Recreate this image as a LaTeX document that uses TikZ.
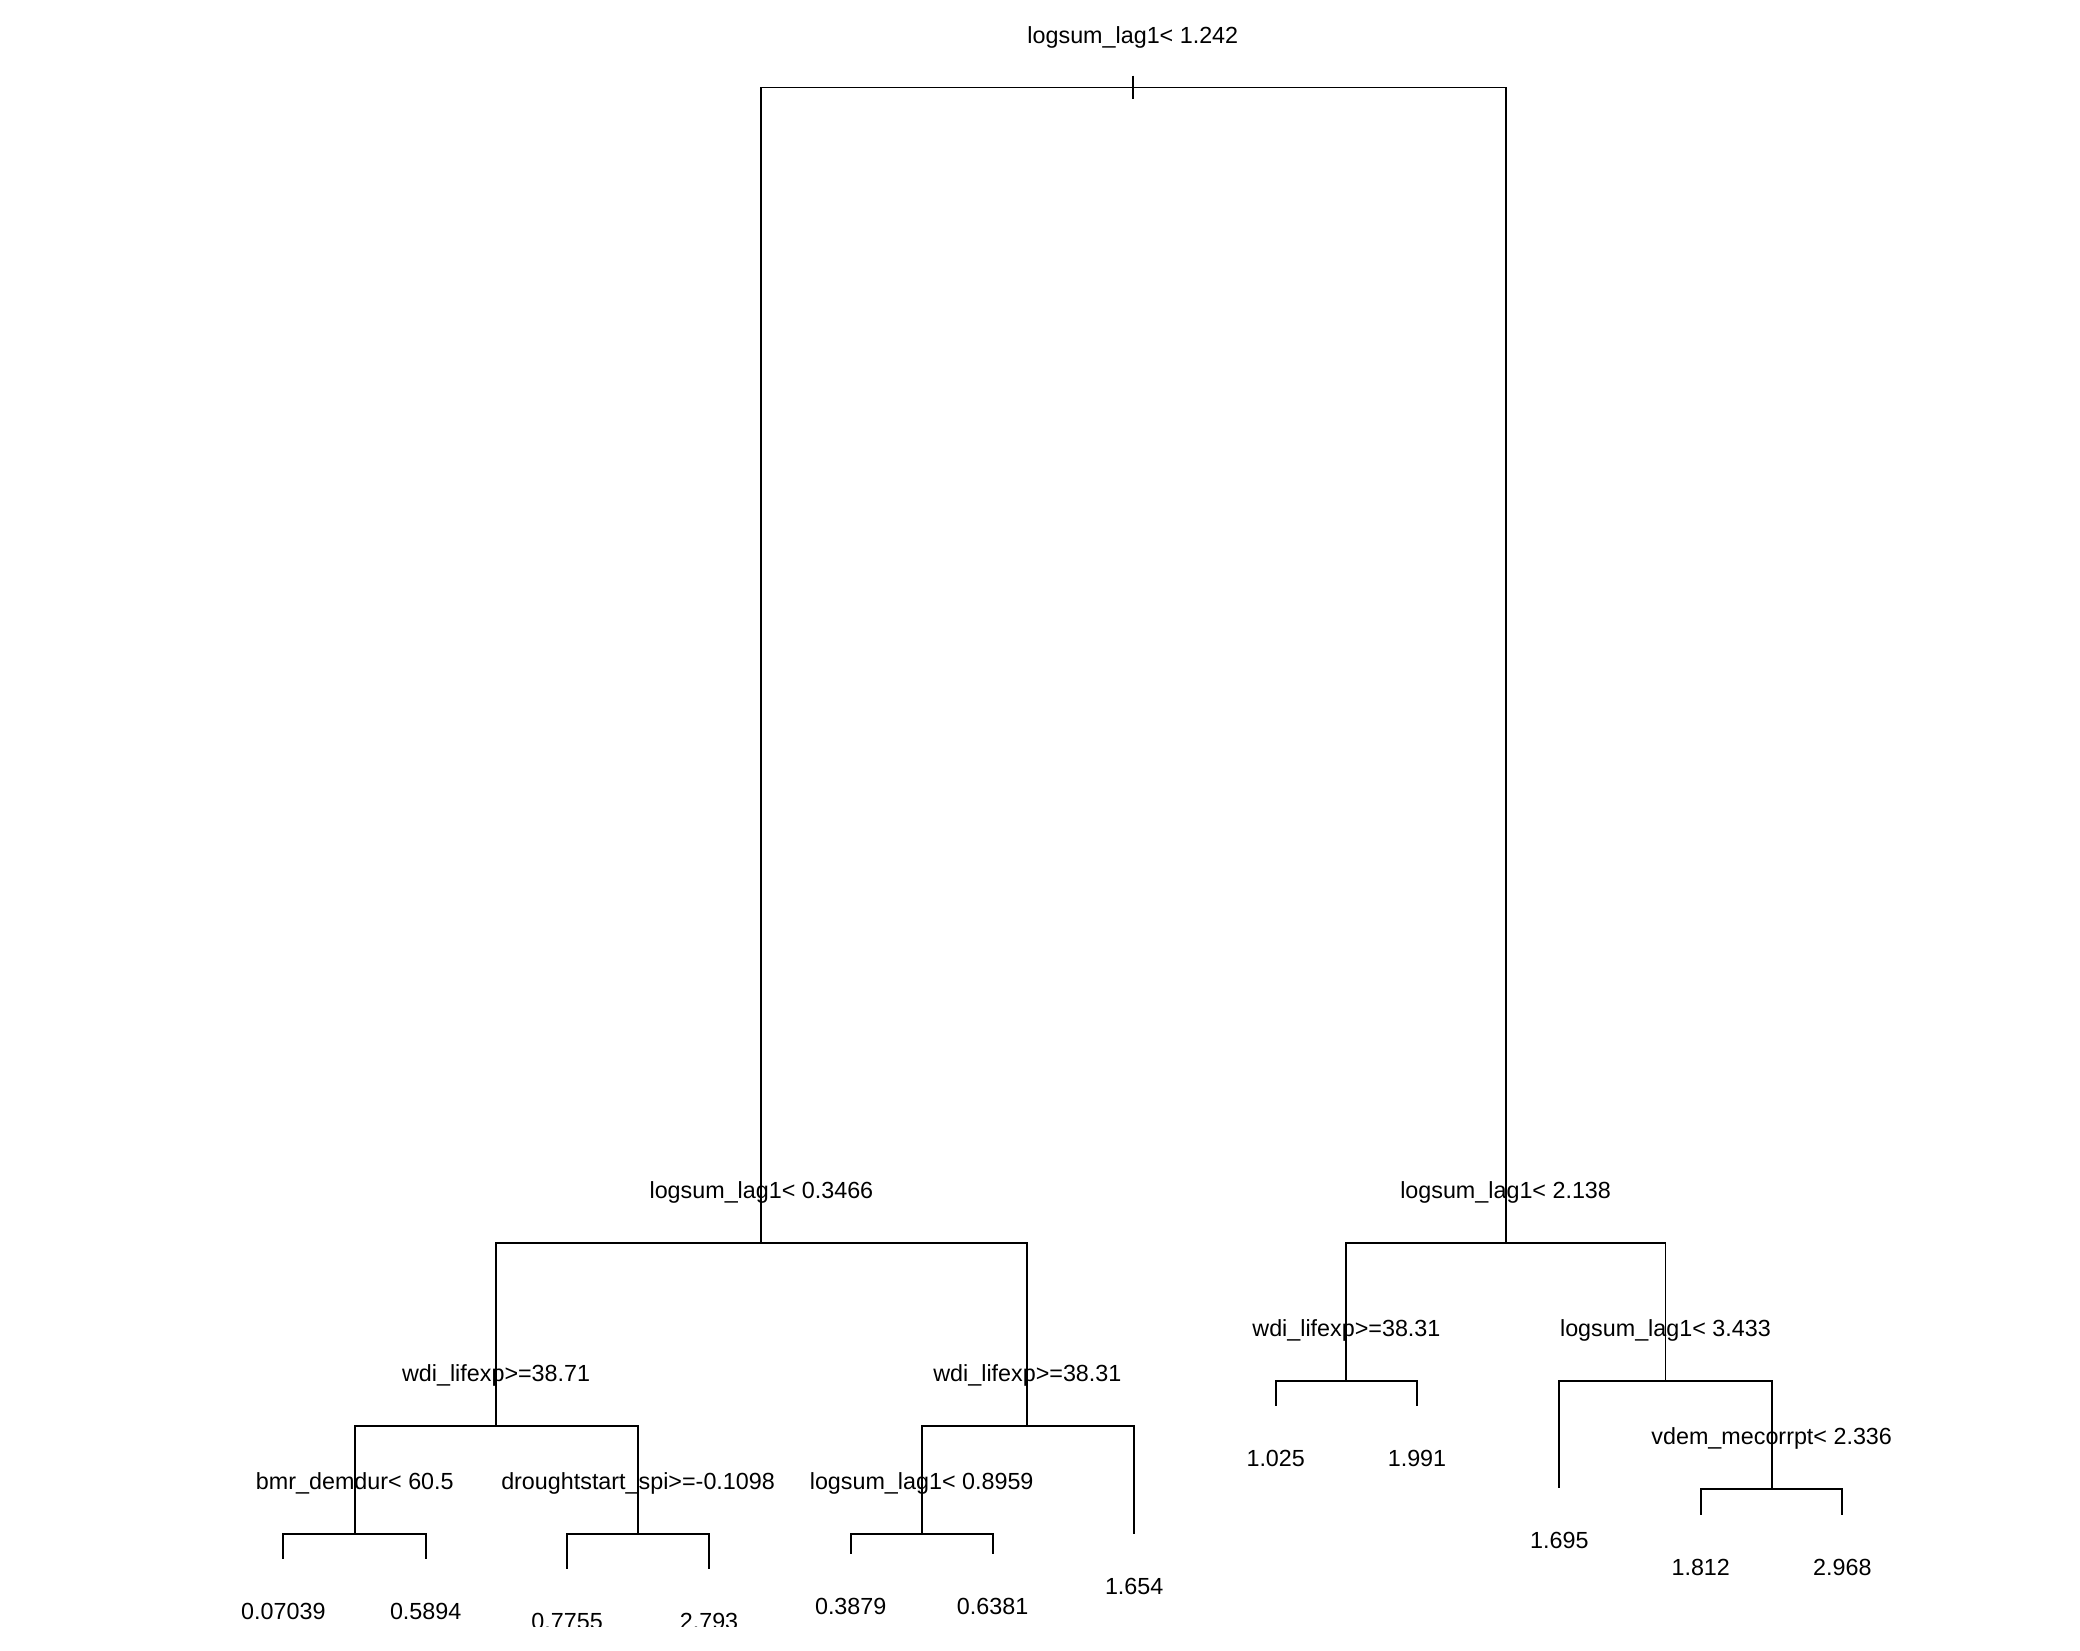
\documentclass[tikz,border=0pt]{standalone}
\usepackage{fontspec}
\setmainfont{Liberation Sans}
\usepackage{tikz}
\usetikzlibrary{calc,positioning}

\begin{document}
\begin{tikzpicture}[x=0.01cm,y=0.01cm,
      br/.style={draw=black,line width=0.4pt},
      split/.style={font=\fontsize{5}{6}\selectfont,anchor=base,inner sep=0pt},
      leaf/.style={font=\fontsize{5}{6}\selectfont,anchor=base,inner sep=0pt}]
    \useasboundingbox (0,0) rectangle (1568,1244);
    \clip (0,17.5) rectangle (1568,1244);
    % split points
    \coordinate (S0) at (854,1178);
    \coordinate (S1) at (574,307);
    \coordinate (S2) at (1135,307);
    \coordinate (S3) at (374,169);
    \coordinate (S4) at (774.5,169);
    \coordinate (S5) at (1015,203);
    \coordinate (S6) at (1255.5,203);
    \coordinate (S7) at (267.5,87.3);
    \coordinate (S8) at (481,87.3);
    \coordinate (S9) at (694.8,87.3);
    \coordinate (S10) at (1335.6,121.5);
    % leaf ends
    \coordinate (lfA) at (213.6,69);
    \coordinate (lfB) at (320.9,69);
    \coordinate (lfC) at (427.5,61);
    \coordinate (lfD) at (534.5,61);
    \coordinate (lfE) at (641.3,72.5);
    \coordinate (lfF) at (748.3,72.5);
    \coordinate (lfG) at (855,87.5);
    \coordinate (lfH) at (961.7,184);
    \coordinate (lfI) at (1068.2,184);
    \coordinate (lfJ) at (1175.5,122);
    \coordinate (lfK) at (1282.1,102);
    \coordinate (lfL) at (1388.9,102);
    % branches
    \foreach \p/\c in {S0/S1,S0/S2,S1/S3,S1/S4,S2/S5,S2/S6,S3/S7,S3/S8,S4/S9,S4/lfG,
        S5/lfH,S5/lfI,S6/lfJ,S6/S10,S7/lfA,S7/lfB,S8/lfC,S8/lfD,S9/lfE,S9/lfF,S10/lfK,S10/lfL}
      \draw[br] (\p) -| (\c);
    % root tick
    \draw[br] ($(S0)+(0,9)$) -- ($(S0)+(0,-9)$);
    % split labels
    \foreach \n/\t in {S0/{logsum\_lag1< 1.242},S1/{logsum\_lag1< 0.3466},S2/{logsum\_lag1< 2.138},
        S3/{wdi\_lifexp>=38.71},S4/{wdi\_lifexp>=38.31},S5/{wdi\_lifexp>=38.31},
        S6/{logsum\_lag1< 3.433},S7/{bmr\_demdur< 60.5},S8/{droughtstart\_spi>=-0.1098},
        S9/{logsum\_lag1< 0.8959},S10/{vdem\_mecorrpt< 2.336}}
      \node[split] (T\n) at ($(\n)+(0,33.5)$) {\t};
    % leaf labels
    \foreach \n/\t in {lfA/0.07039,lfB/0.5894,lfC/0.7755,lfD/2.793,lfE/0.3879,lfF/0.6381,
        lfG/1.654,lfH/1.025,lfI/1.991,lfJ/1.695,lfK/1.812,lfL/2.968}
      \node[leaf] (V\n) at ($(\n)+(0,-45.5)$) {\t};
  \end{tikzpicture}
\end{document}
